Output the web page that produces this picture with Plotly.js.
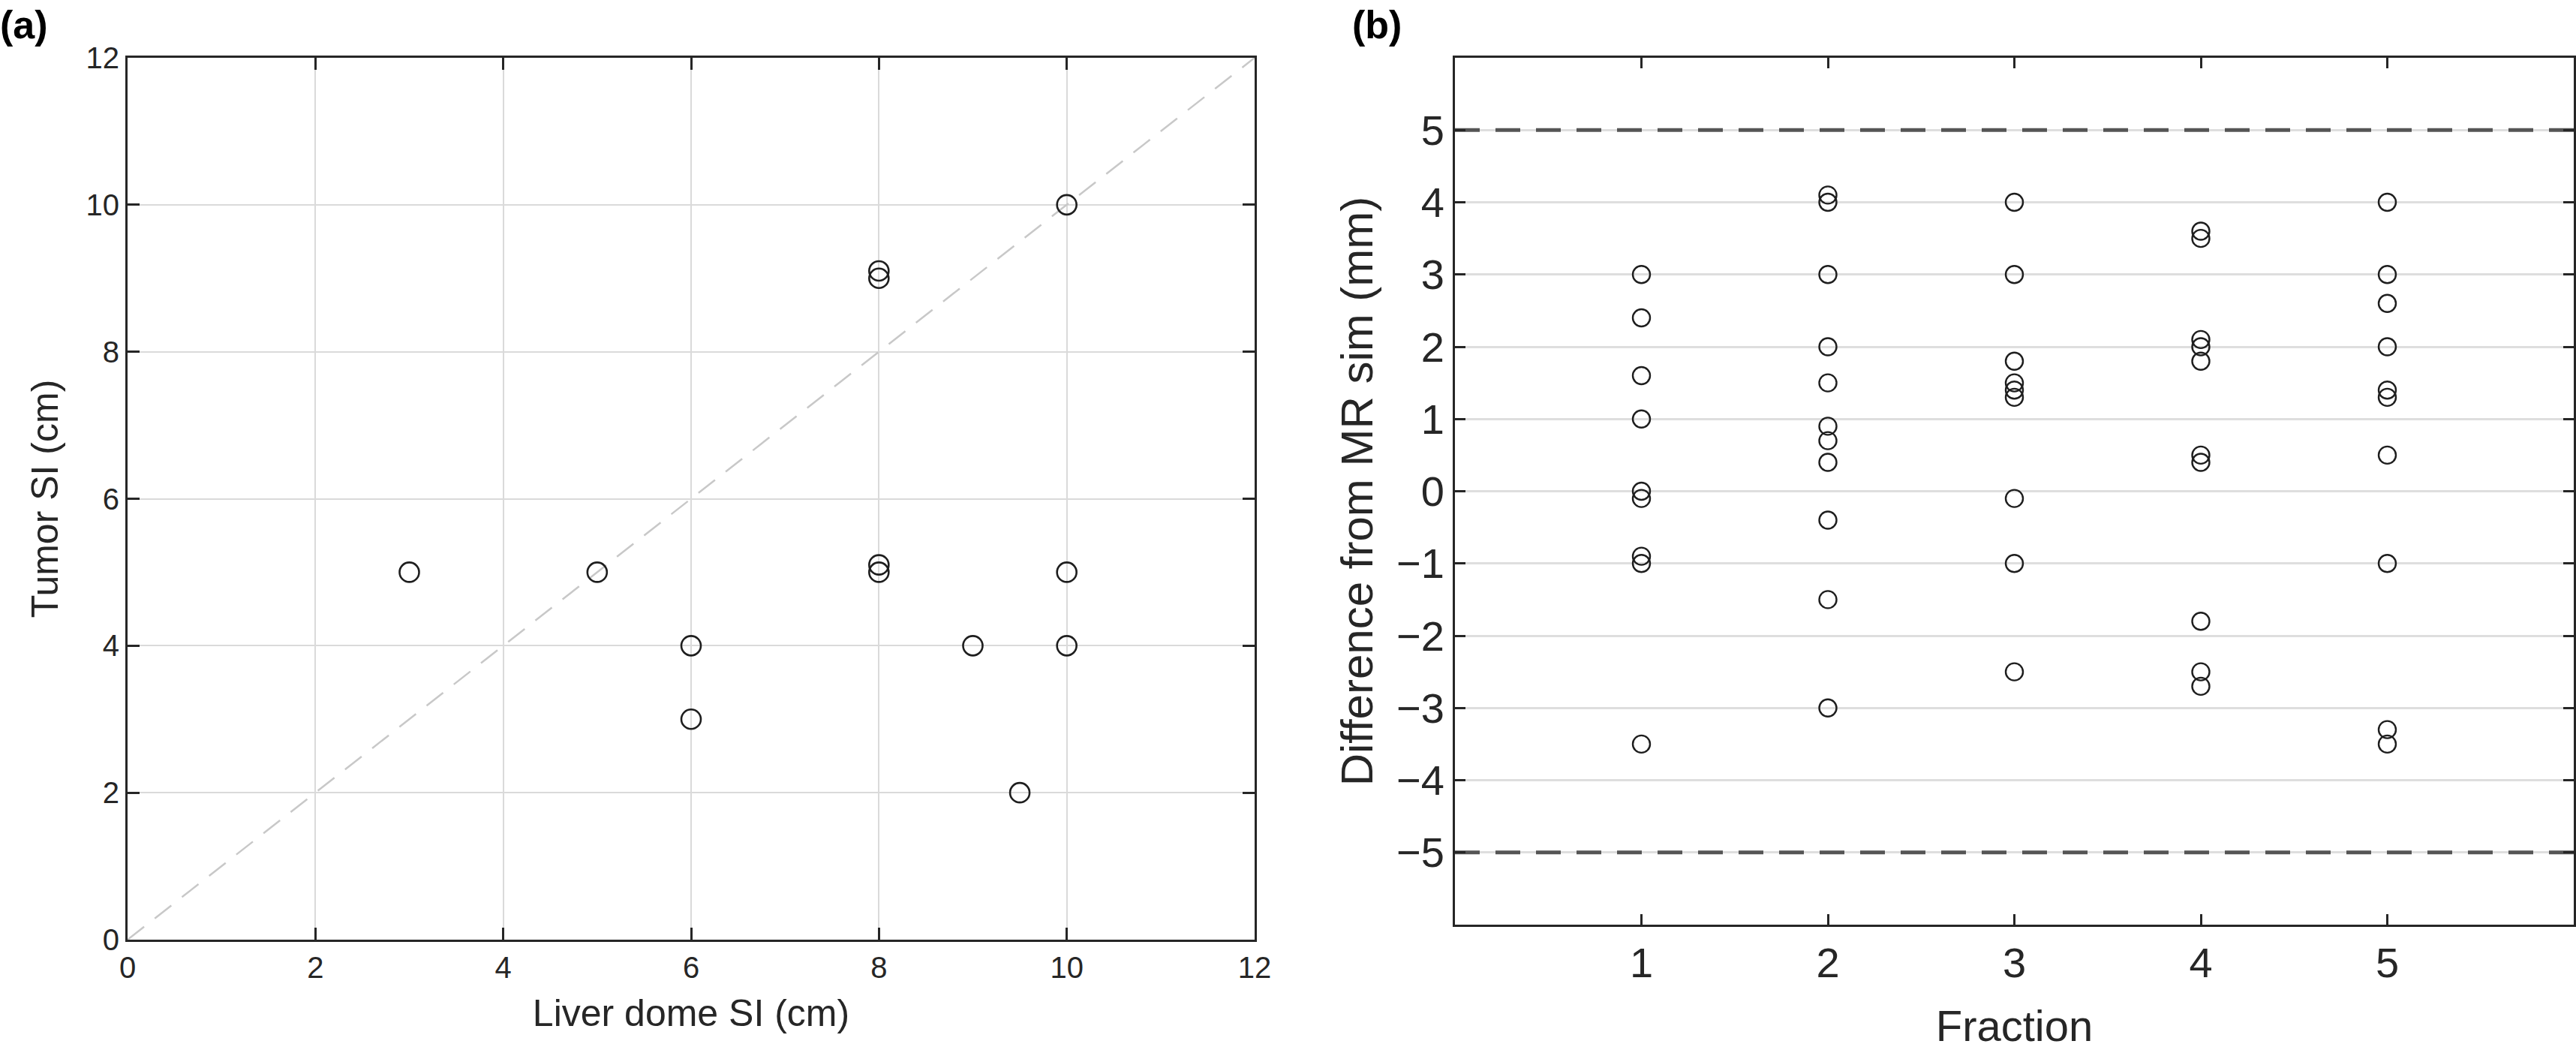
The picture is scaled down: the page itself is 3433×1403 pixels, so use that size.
<!DOCTYPE html>
<html>
<head>
<meta charset="utf-8">
<script src="https://cdn.plot.ly/plotly-3.0.1.min.js"></script>
<style>
  html, body { margin: 0; padding: 0; background: #fff; }
  #plot { width: 3433px; height: 1403px; }
</style>
</head>
<body>
<div id="plot"></div>
<script>
// Panel (a): liver dome vs tumor SI motion (cm)
const liverSI = [3, 5, 6, 6, 8, 8, 8, 8, 9, 9.5, 10, 10, 10];
const tumorSI = [5, 5, 4, 3, 9.1, 9, 5.1, 5, 4, 2, 10, 5, 4];
const identityLine = [0, 12];
const aTicks = [0, 2, 4, 6, 8, 10, 12];

// Panel (b): difference from MR sim (mm) per fraction
const fractions = [1, 2, 3, 4, 5];
const diffByFraction = [
	[3, 2.4, 1.6, 1, 0, -0.1, -0.9, -1, -3.5],
	[4.1, 4.0, 3, 2, 1.5, 0.9, 0.7, 0.4, -0.4, -1.5, -3],
	[4, 3, 1.8, 1.5, 1.4, 1.3, -0.1, -1, -2.5],
	[3.6, 3.5, 2.1, 2.0, 1.8, 0.5, 0.4, -1.8, -2.5, -2.7],
	[4, 3, 2.6, 2, 1.4, 1.3, 0.5, -1, -3.3, -3.5]
];
const toleranceLimits = [-5, 5];
const bTicks = [-5, -4, -3, -2, -1, 0, 1, 2, 3, 4, 5];

const W = 3433, H = 1403;
const ink = '#262626';
const fontFam = 'Liberation Sans, Arial, sans-serif';

// flatten fraction data to x/y pairs
let fx = [], fy = [];
diffByFraction.forEach(function(vals, i) {
	vals.forEach(function(v) {
		fx.push(fractions[i]);
		fy.push(v);
	});
});

let traces = [];

// identity (y = x) line
traces.push({
	x: identityLine, y: identityLine, xaxis: 'x', yaxis: 'y',
	mode: 'lines', line: {color: '#c8c8c8', width: 2.5, dash: '28px,18px'},
	hoverinfo: 'skip'
});

traces.push({
	x: liverSI, y: tumorSI, xaxis: 'x', yaxis: 'y',
	mode: 'markers', type: 'scatter',
	marker: {symbol: 'circle-open', size: 26, color: '#1e1e1e', line: {width: 2.6}}
});

// tolerance lines at +/-5 mm
toleranceLimits.forEach(function(lim) {
	traces.push({
		x: [0, 6], y: [lim, lim], xaxis: 'x2', yaxis: 'y2',
		mode: 'lines', line: {color: '#555555', width: 5, dash: '33px,21px'},
		hoverinfo: 'skip'
	});
});

traces.push({
	x: fx, y: fy, xaxis: 'x2', yaxis: 'y2',
	mode: 'markers', type: 'scatter',
	marker: {symbol: 'circle-open', size: 23, color: '#1e1e1e', line: {width: 2.4}}
});

// shared axis styling, matlab-ish box
function boxAxis(extra) {
	return Object.assign({
		showline: true, linecolor: ink, linewidth: 3, mirror: 'ticks',
		ticks: 'inside', tickcolor: ink, tickwidth: 3,
		zeroline: false, automargin: false, fixedrange: true
	}, extra);
}

const layout = {
	width: W, height: H,
	margin: {l: 0, r: 0, t: 0, b: 0},
	paper_bgcolor: '#fff', plot_bgcolor: '#fff',
	showlegend: false,
	font: {family: fontFam, color: ink},
	xaxis: boxAxis({
		domain: [170 / W, 1672 / W], anchor: 'y',
		range: [0, 12], tickvals: aTicks, ticklen: 16,
		showgrid: true, gridcolor: '#dadada', gridwidth: 2,
		tickfont: {size: 40, color: ink},
		title: {text: 'Liver dome SI (cm)', font: {size: 50, color: ink}, standoff: 22}
	}),
	yaxis: boxAxis({
		domain: [1 - 1252 / H, 1 - 77 / H], anchor: 'x',
		range: [0, 12], tickvals: aTicks, ticklen: 16,
		showgrid: true, gridcolor: '#dadada', gridwidth: 2,
		tickfont: {size: 40, color: ink},
		title: {text: 'Tumor SI (cm)', font: {size: 50, color: ink}, standoff: 22}
	}),
	xaxis2: boxAxis({
		domain: [1939 / W, 3430 / W], anchor: 'y2',
		range: [0, 6], tickvals: fractions, ticklen: 14,
		showgrid: false,
		tickfont: {size: 56, color: ink},
		title: {text: 'Fraction', font: {size: 58, color: ink}, standoff: 34}
	}),
	yaxis2: boxAxis({
		domain: [1 - 1232 / H, 1 - 77 / H], anchor: 'x2',
		range: [-6, 6], tickvals: bTicks, ticklen: 14,
		showgrid: true, gridcolor: '#dedede', gridwidth: 3,
		tickfont: {size: 56, color: ink},
		title: {text: 'Difference from MR sim (mm)', font: {size: 60, color: ink}, standoff: 12}
	}),
	annotations: [
		{text: '<b>(a)</b>', xref: 'paper', yref: 'paper', x: 0, y: 1, xanchor: 'left', yanchor: 'top',
		 showarrow: false, font: {size: 52, color: '#000', family: fontFam}, xshift: -2, yshift: -2},
		{text: '<b>(b)</b>', xref: 'paper', yref: 'paper', x: 1800 / W, y: 1, xanchor: 'left', yanchor: 'top',
		 showarrow: false, font: {size: 52, color: '#000', family: fontFam}, yshift: -2}
	]
};

Plotly.newPlot('plot', traces, layout, {staticPlot: true, displayModeBar: false});
</script>
</body>
</html>
